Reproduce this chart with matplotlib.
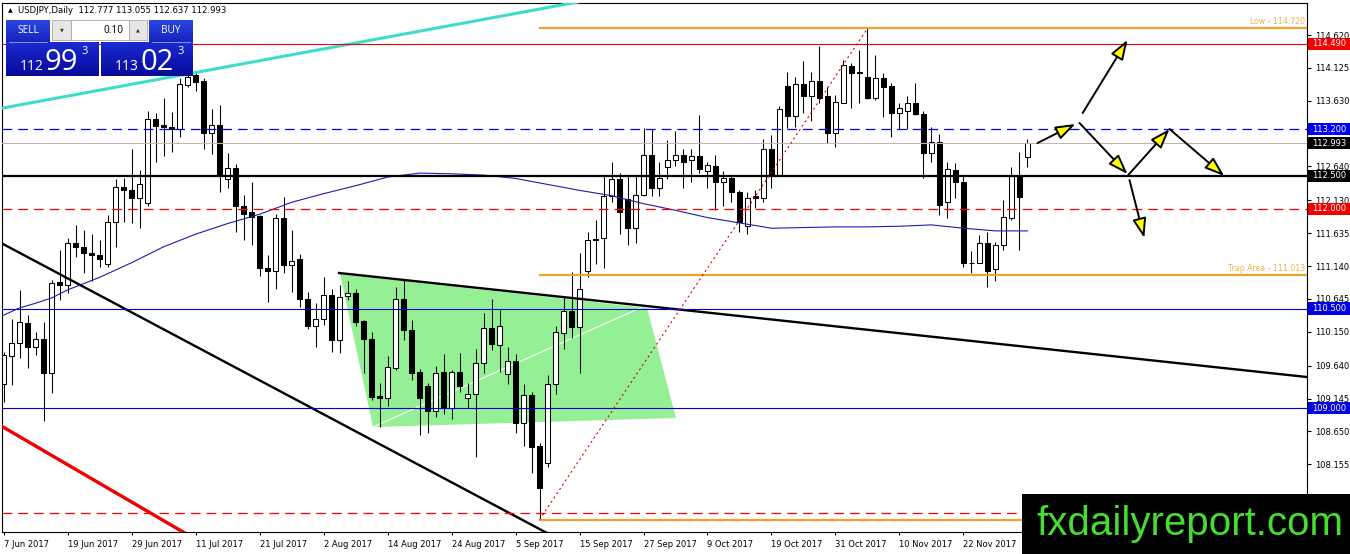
import matplotlib
matplotlib.use("Agg")
import matplotlib.pyplot as plt
import matplotlib.transforms as mtransforms
from matplotlib.patches import Rectangle, Polygon
import numpy as np

plt.rcParams['lines.scale_dashes'] = False
plt.rcParams['font.family'] = ['DejaVu Sans']

# ---------------- data ----------------
title_text = "USDJPY,Daily  112.777 113.055 112.637 112.993"

date_labels = ["7 Jun 2017", "19 Jun 2017", "29 Jun 2017", "11 Jul 2017", "21 Jul 2017",
               "2 Aug 2017", "14 Aug 2017", "24 Aug 2017", "5 Sep 2017", "15 Sep 2017",
               "27 Sep 2017", "9 Oct 2017", "19 Oct 2017", "31 Oct 2017", "10 Nov 2017",
               "22 Nov 2017"]
date_tick_bars = [0, 8, 16, 24, 32, 40, 48, 56, 64, 72, 80, 88, 96, 104, 112, 120]

opens = [109.37, 109.79, 109.98, 110.28, 109.92, 110.04, 109.53, 110.90, 110.85, 111.49,
         111.42, 111.34, 111.30, 111.17, 111.81, 112.33, 112.28, 112.16, 112.09, 113.35,
         113.26, 113.24, 113.20, 113.86, 114.02, 113.93, 113.14, 113.26, 112.45, 112.61,
         112.05, 111.95, 111.89, 111.11, 111.07, 111.87, 111.16, 111.24, 110.64, 110.23,
         110.34, 110.71, 110.03, 110.69, 110.73, 110.31, 110.04, 109.18, 109.15, 109.60,
         110.64, 110.18, 109.54, 109.34, 108.96, 109.54, 109.01, 109.54, 109.16, 109.22,
         109.68, 110.21, 109.95, 109.51, 109.71, 108.78, 109.20, 108.43, 108.18, 109.37,
         110.13, 110.47, 110.22, 111.06, 111.55, 111.56, 112.19, 112.45, 112.15, 111.71,
         112.21, 112.81, 112.31, 112.63, 112.74, 112.82, 112.73, 112.80, 112.57, 112.65,
         112.41, 112.47, 112.26, 111.74, 112.19, 112.16, 112.90, 112.51, 113.85, 113.40,
         113.88, 113.70, 113.93, 113.70, 113.15, 113.60, 114.15, 114.06, 113.98, 113.67,
         113.97, 113.85, 113.44, 113.48, 113.59, 113.43, 112.84, 113.01, 112.11, 112.58,
         112.41, 111.19, 111.18, 111.48, 111.09, 111.45, 111.87, 112.51, 112.777]
highs = [109.85, 110.35, 110.78, 110.40, 110.15, 110.30, 110.93, 111.38, 111.56, 111.76,
         111.69, 111.63, 111.53, 111.91, 112.45, 112.46, 112.90, 112.59, 113.47, 113.45,
         113.67, 113.46, 113.97, 114.15, 114.06, 113.97, 113.50, 113.57, 112.85, 112.68,
         112.21, 112.40, 111.91, 111.31, 111.92, 112.18, 111.69, 111.32, 110.75, 110.58,
         110.97, 110.80, 110.85, 110.91, 110.80, 110.33, 110.15, 109.38, 109.78, 110.83,
         110.93, 110.33, 109.59, 109.38, 109.64, 109.81, 109.57, 109.83, 109.38, 109.89,
         110.43, 110.65, 110.48, 109.92, 109.81, 109.37, 109.25, 108.47, 109.50, 110.24,
         110.68, 111.05, 111.33, 111.66, 111.83, 112.49, 112.70, 112.54, 112.49, 112.49,
         113.22, 113.20, 112.71, 113.04, 113.18, 112.91, 112.91, 113.42, 112.71, 112.81,
         112.57, 112.49, 112.29, 112.26, 112.29, 113.05, 113.12, 113.55, 114.07, 113.99,
         114.23, 114.07, 114.45, 113.84, 113.72, 114.25, 114.20, 114.40, 114.72, 114.32,
         114.05, 113.89, 113.60, 113.70, 113.90, 113.48, 113.24, 113.13, 112.70, 112.69,
         112.49, 111.36, 111.61, 111.66, 111.51, 112.14, 112.63, 112.86, 113.055]
lows = [109.10, 109.35, 109.75, 109.60, 109.80, 108.80, 109.23, 110.63, 110.73, 111.28,
        111.03, 110.91, 111.13, 111.12, 111.42, 111.81, 111.79, 111.71, 112.05, 112.71,
        112.80, 112.86, 113.08, 113.84, 113.77, 112.91, 112.83, 112.25, 112.31, 111.66,
        111.53, 111.46, 110.99, 110.60, 110.79, 111.04, 110.75, 110.53, 110.19, 109.92,
        110.25, 109.84, 109.83, 110.63, 110.23, 109.53, 109.13, 108.72, 109.03, 109.58,
        110.02, 109.43, 108.60, 108.62, 108.87, 108.91, 108.83, 109.25, 109.01, 108.26,
        109.53, 109.88, 109.55, 109.37, 108.62, 108.43, 108.03, 107.32, 108.11, 109.21,
        109.89, 110.05, 109.53, 110.98, 111.17, 111.11, 112.11, 111.63, 111.46, 111.48,
        112.19, 112.19, 112.19, 112.45, 112.64, 112.31, 112.40, 112.54, 112.31, 111.98,
        112.05, 112.10, 111.66, 111.63, 112.01, 112.10, 112.31, 112.50, 113.22, 113.23,
        113.45, 113.32, 113.59, 113.00, 112.93, 113.59, 113.52, 113.60, 113.66, 113.64,
        113.38, 113.08, 113.20, 113.20, 113.42, 112.46, 112.71, 111.91, 111.87, 112.16,
        111.12, 111.04, 111.18, 110.83, 110.91, 111.38, 111.83, 111.38, 112.637]
closes = [109.80, 109.98, 110.30, 109.92, 110.04, 109.53, 110.89, 110.85, 111.49, 111.42,
          111.34, 111.30, 111.25, 111.81, 112.33, 112.28, 112.16, 112.37, 113.35, 113.25,
          113.24, 113.20, 113.88, 113.99, 113.91, 113.14, 113.26, 112.51, 112.61, 112.05,
          111.93, 111.88, 111.11, 111.07, 111.87, 111.16, 111.22, 110.65, 110.23, 110.34,
          110.71, 110.02, 110.67, 110.73, 110.30, 110.04, 109.17, 109.16, 109.62, 110.64,
          110.17, 109.53, 109.16, 108.95, 109.53, 109.01, 109.54, 109.33, 109.22, 109.68,
          110.21, 109.96, 110.23, 109.71, 108.78, 109.20, 108.42, 107.80, 109.37, 110.14,
          110.47, 110.22, 110.80, 111.54, 111.53, 112.20, 112.45, 111.96, 111.71, 112.21,
          112.81, 112.31, 112.46, 112.73, 112.82, 112.71, 112.80, 112.60, 112.66, 112.41,
          112.46, 112.25, 111.81, 112.16, 112.16, 112.90, 112.51, 113.50, 113.40, 113.88,
          113.70, 113.93, 113.67, 113.15, 113.61, 114.17, 114.05, 114.05, 113.67, 113.97,
          113.83, 113.44, 113.52, 113.59, 113.43, 112.84, 113.01, 112.06, 112.60, 112.41,
          111.18, 111.18, 111.49, 111.06, 111.45, 111.88, 112.50, 112.18, 112.993]

ma_bars = [0, 2, 4, 6, 8, 12, 16, 20, 24, 28, 32, 36, 40, 44, 48, 52, 56, 60, 64, 68,
           72, 76, 80, 84, 88, 92, 96, 100, 104, 108, 112, 116, 120, 124, 128]
ma_values = [110.40, 110.51, 110.58, 110.66, 110.78, 110.97, 111.19, 111.43, 111.62, 111.78,
             111.92, 112.10, 112.23, 112.35, 112.48, 112.54, 112.53, 112.51, 112.46, 112.37,
             112.28, 112.20, 112.08, 111.98, 111.87, 111.79, 111.71, 111.72, 111.73, 111.73,
             111.74, 111.76, 111.71, 111.67, 111.67]

price_ticks = [114.620, 114.125, 113.630, 113.135, 112.640, 112.130, 111.635, 111.140,
               110.645, 110.150, 109.640, 109.145, 108.650, 108.155, 107.660]
hidden_tick_labels = [113.135]

tag_prices = [114.490, 113.200, 112.993, 112.500, 112.000, 110.500, 109.000]
tag_colors = ['#f00000', '#0000f0', '#000000', '#000000', '#f00000', '#0000e0', '#0000e0']

fib_high = 114.720
trap_level = 111.013
fib_low = 107.32
fib_start_bar = 67
fib_high_bar = 108

# trendlines: (bar0, price0, bar1, price1)
cyan_line = (-0.06, 113.521, 43.3, 114.484)
red_line = (-0.06, 108.716, 22.44, 107.135)
black_diag = (-0.06, 111.472, 67.7, 107.135)
black_trend = (41.94, 111.036, 162.94, 109.469)
green_zone = [(42.06, 111.021), (80.44, 110.509), (84.06, 108.852), (46.19, 108.716)]

arrow_segments = [
    (129.25, 112.993, 134.0, 113.280),
    (134.9, 113.445, 140.5, 114.545),
    (134.5, 113.295, 140.5, 112.527),
    (140.6, 112.512, 145.75, 113.204),
    (145.75, 113.204, 152.6, 112.497),
    (140.75, 112.436, 142.6, 111.563),
]

# ---------------- figure ----------------
W, H = 1350, 554
DPI = 100
fig = plt.figure(figsize=(W / DPI, H / DPI), dpi=DPI)
fig.patch.set_facecolor('white')

L_px, R_px, T_px, B_px = 2, 1307, 3, 532
ax = fig.add_axes([L_px / W, 1 - B_px / H, (R_px - L_px) / W, (B_px - T_px) / H])
XMIN, XMAX = -0.19, 162.94
ax.set_xlim(XMIN, XMAX)
ax.set_ylim(107.135, 115.102)
ax.set_facecolor('white')
for sp in ax.spines.values():
    sp.set_color('black')
    sp.set_linewidth(0.8)

pix = mtransforms.Affine2D().scale(1.0 / W, -1.0 / H).translate(0, 1) + fig.transFigure
blend = mtransforms.blended_transform_factory(pix, ax.transData)

# green zone (background)
ax.add_patch(Polygon(green_zone, closed=True, fc='#95f095', ec='none', zorder=0.5))
ax.plot([green_zone[3][0], 79.6], [green_zone[3][1], 110.51], color='white', lw=0.8, zorder=0.6)

# candles
bw = 0.64
for i, (o, h, l, c) in enumerate(zip(opens, highs, lows, closes)):
    ax.vlines(i, l, h, color='black', lw=0.75, zorder=2)
    bull = c >= o
    ax.add_patch(Rectangle((i - bw / 2, min(o, c)), bw, max(abs(c - o), 0.004),
                           fc='white' if bull else 'black', ec='black', lw=0.75, zorder=2.1))

# moving average
ax.plot(ma_bars, ma_values, color='#1c1cb0', lw=0.8, zorder=3)

def extended(seg, x0=-5, x1=170, start_at_first=False):
    b0, p0, b1, p1 = seg
    k = (p1 - p0) / (b1 - b0)
    xs = np.array([b0 if start_at_first else x0, x1])
    return xs, p0 + k * (xs - b0)

xs, ys = extended(cyan_line)
ax.plot(xs, ys, color='#3fdccb', lw=2.2, zorder=3, solid_capstyle='butt')
xs, ys = extended(red_line)
ax.plot(xs, ys, color='#ee0000', lw=2.4, zorder=3)
xs, ys = extended(black_diag)
ax.plot(xs, ys, color='black', lw=1.7, zorder=3)
xs, ys = extended(black_trend, start_at_first=True)
ax.plot(xs, ys, color='black', lw=1.7, zorder=3)

# horizontal levels
blue = '#0000ff'
red = '#ff0000'
ax.axhline(114.490, color='#e80000', lw=0.8, zorder=3)
ax.axhline(113.200, color=blue, lw=0.9, dashes=(7, 4.3), zorder=3)
ax.axhline(112.993, color='#b8b8b8', lw=0.8, zorder=2.9)
ax.axhline(112.500, color='black', lw=1.6, zorder=3)
ax.axhline(112.000, color=red, lw=0.9, dashes=(7, 4.3), zorder=3)
ax.axhline(110.500, color='#0000d0', lw=0.8, zorder=3)
ax.axhline(109.000, color='#0000d0', lw=0.8, zorder=3)
ax.axhline(107.42, color=red, lw=0.9, dashes=(7, 4.3), zorder=3)

# fibonacci-style orange levels
orange = '#f2a22c'
for lvl in (fib_high, trap_level, fib_low):
    ax.plot([fib_start_bar, XMAX + 1], [lvl, lvl], color=orange, lw=1.6, zorder=3)
ax.text(162.7, fib_high + 0.03, "Low - 114.720", color='#f0b24a', fontsize=5.6,
        ha='right', va='bottom', zorder=4)
ax.text(162.7, trap_level + 0.03, "Trap Area - 111.013", color='#f0b24a', fontsize=5.6,
        ha='right', va='bottom', zorder=4)
ax.plot([fib_start_bar, fib_high_bar], [fib_low, fib_high], color='#e00000', lw=0.8,
        dashes=(1.5, 2.2), zorder=3)

# arrows
for (x0, y0, x1, y1) in arrow_segments:
    ax.annotate('', xy=(x1, y1), xytext=(x0, y0),
                arrowprops=dict(arrowstyle='-|>,head_length=1.2,head_width=0.42',
                                fc='#ffff00', ec='black', lw=1.4, shrinkA=0, shrinkB=0,
                                mutation_scale=10), zorder=4)

# axes ticks
ax.yaxis.tick_right()
ax.set_yticks(price_ticks)
ax.set_yticklabels(["" if p in hidden_tick_labels else f"{p:.3f}" for p in price_ticks])
ax.set_xticks(date_tick_bars)
ax.set_xticklabels(date_labels)
for lbl in ax.get_xticklabels():
    lbl.set_ha('left')
ax.tick_params(axis='y', direction='out', length=3, width=0.8, pad=2.5, labelsize=6,
               colors='black')
ax.tick_params(axis='x', direction='out', length=2.5, width=0.8, pad=3, labelsize=6,
               colors='black')

# price tags on the right axis
for p, col in zip(tag_prices, tag_colors):
    ax.add_patch(Rectangle((1308, p - 0.092), 42, 0.184, transform=blend, fc=col, ec='none',
                           clip_on=False, zorder=6))
    ax.text(1312, p, f"{p:.3f}", transform=blend, color='white', fontsize=6, ha='left',
            va='center', clip_on=False, zorder=7)

# ---------------- overlay panel (pixel coordinates) ----------------
def prect(x0, y0, x1, y1, **kw):
    r = Rectangle((x0, y0), x1 - x0, y1 - y0, transform=pix, **kw)
    fig.add_artist(r)
    return r

def ptext(x, y, s, **kw):
    return fig.text(x, y, s, transform=pix, **kw)

def grad_rect(x0, y0, x1, y1, c_top, c_bot, n=18):
    c_top = np.array(c_top)
    c_bot = np.array(c_bot)
    step = (y1 - y0) / n
    for k in range(n):
        t = k / (n - 1)
        col = tuple(c_top * (1 - t) + c_bot * t)
        prect(x0, y0 + step * k, x1, y0 + step * (k + 1) + 0.4, fc=col, ec='none', zorder=5)

ptext(8, 10.5, "\u25B2", fontsize=4.5, color='black', va='center', ha='left', zorder=6)
ptext(18, 10.5, title_text, fontsize=6.1, color='black', va='center', ha='left', zorder=6)

btn_top = (0.17, 0.27, 0.88)
btn_bot = (0.08, 0.14, 0.74)
grad_rect(6, 20, 50, 42, btn_top, btn_bot)
grad_rect(149, 20, 193, 42, btn_top, btn_bot)
ptext(28, 30.5, "SELL", fontsize=7.3, color='white', ha='center', va='center', zorder=6,
      family=['Open Sans', 'DejaVu Sans'])
ptext(171, 30.5, "BUY", fontsize=7.3, color='white', ha='center', va='center', zorder=6,
      family=['Open Sans', 'DejaVu Sans'])
grad_rect(6, 42, 99, 76, (0.10, 0.16, 0.82), (0.03, 0.04, 0.60))
grad_rect(101, 42, 193, 76, (0.10, 0.16, 0.82), (0.03, 0.04, 0.60))
fig.add_artist(plt.Line2D([9, 47], [41.6, 41.6], transform=pix, color='#9aa8ff', lw=0.6, zorder=6))
fig.add_artist(plt.Line2D([152, 190], [41.6, 41.6], transform=pix, color='#9aa8ff', lw=0.6, zorder=6))

prect(52, 20, 71, 40, fc='#e6e6e6', ec='#a8a8a8', lw=0.6, zorder=5)
prect(71, 20, 129, 40, fc='white', ec='#a8a8a8', lw=0.6, zorder=5)
prect(129, 20, 147, 40, fc='#e6e6e6', ec='#a8a8a8', lw=0.6, zorder=5)
ptext(61.5, 30, "\u25BC", fontsize=3.5, color='#333333', ha='center', va='center', zorder=6)
ptext(138, 30, "\u25B2", fontsize=3.5, color='#333333', ha='center', va='center', zorder=6)
ptext(124, 30.5, "0.10", fontsize=7.3, color='black', ha='right', va='center', zorder=6,
      family=['Open Sans', 'DejaVu Sans'])

big_font = ['Open Sans', 'DejaVu Sans']
ptext(44, 70, "112", fontsize=10, color='white', ha='right', va='baseline', zorder=6, family=big_font)
ptext(45, 70, "99", fontsize=21, color='white', ha='left', va='baseline', zorder=6, family=big_font)
ptext(82, 46, "3", fontsize=8, color='white', ha='left', va='top', zorder=6, family=big_font)
ptext(139, 70, "113", fontsize=10, color='white', ha='right', va='baseline', zorder=6, family=big_font)
ptext(140, 70, "02", fontsize=21, color='white', ha='left', va='baseline', zorder=6, family=big_font)
ptext(178, 46, "3", fontsize=8, color='white', ha='left', va='top', zorder=6, family=big_font)

# watermark
prect(1022, 494, 1351, 555, fc='black', ec='none', zorder=8)
ptext(1190, 535, "fxdailyreport.com", fontsize=29, color='#46dc32', ha='center', va='baseline',
      zorder=9, family=['Liberation Sans', 'DejaVu Sans'])

fig.savefig("out.png", dpi=DPI, facecolor='white')
